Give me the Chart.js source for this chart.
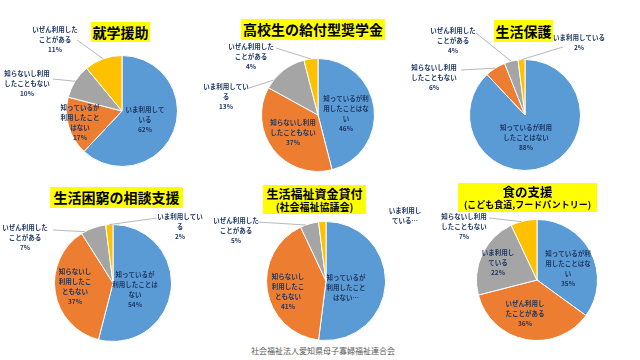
<!DOCTYPE html>
<html>
<head>
<meta charset="utf-8">
<script src="https://cdn.jsdelivr.net/npm/chart.js@4.4.1/dist/chart.umd.min.js"></script>
<style>
  body { margin: 0; width: 640px; height: 360px; background: #fff; position: relative; overflow: hidden;
         font-family: "Noto Sans CJK JP", sans-serif; }
  canvas { position: absolute; left: 0; top: 0; }
  .title { position: absolute; background: #ffff00; color: #000; font-weight: bold; text-align: center; white-space: nowrap;
           display: flex; flex-direction: column; justify-content: center; align-items: center; line-height: 1.15; }
  .footer { position: absolute; left: 0; width: 646px; top: 345px; text-align: center; font-size: 8px; color: #595959; }
</style>
</head>
<body>
<div class="footer">社会福祉法人愛知県母子寡婦福祉連合会</div>
<script>
// Data (percent)
const titles = [
    ['就学援助'],
    ['高校生の給付型奨学金'],
    ['生活保護'],
    ['生活困窮の相談支援'],
    ['生活福祉資金貸付', '(社会福祉協議会)'],
    ['食の支援', '(こども食道,フードパントリー)']
];

const shugakuLabels = ['いま利用している', '知っているが利用したことはない', '知らないし利用したこともない', 'いぜん利用したことがある'];
const shugakuValues = [62, 17, 10, 11];

const kokoLabels = ['知っているが利用したことはない', '知らないし利用したこともない', 'いま利用している', 'いぜん利用したことがある'];
const kokoValues = [46, 37, 13, 4];

const hogoLabels = ['知っているが利用したことはない', '知らないし利用したこともない', 'いぜん利用したことがある', 'いま利用している'];
const hogoValues = [88, 6, 4, 2];

const konkyuLabels = ['知っているが利用したことはない', '知らないし利用したこともない', 'いぜん利用したことがある', 'いま利用している'];
const konkyuValues = [54, 37, 7, 2];

const shikinLabels = ['知っているが利用したことはない', '知らないし利用したこともない', 'いぜん利用したことがある', 'いま利用している'];
const shikinValues = [52, 41, 5, 2];

const shokuLabels = ['知っているが利用したことはない', 'いぜん利用したことがある', 'いま利用している', '知らないし利用したこともない'];
const shokuValues = [35, 36, 22, 7];

const sliceColors = ['#5B9BD5', '#ED7D31', '#A5A5A5', '#FFC000'];

// Layout: pie centre/radius, title box [x, y, w, h, font, subFont], label placement (offsets from pie centre)
const pies = [
    { labels: shugakuLabels, values: shugakuValues, cx: 122, cy: 111, r: 56,
      box: [91, 22, 59, 20, 14],
      tags: [
          { wrap: 6, at: [23, 9] },
          { wrap: 6, at: [-42, 12] },
          { wrap: 7, at: [-95, -27], line: [-69, -32] },
          { wrap: 7, at: [-67, -71], line: [-45, -71] }
      ] },
    { labels: kokoLabels, values: kokoValues, cx: 318, cy: 115, r: 57,
      box: [241, 19, 144, 21, 14],
      tags: [
          { wrap: 7, at: [28, -1] },
          { wrap: 7, at: [-25, 18] },
          { wrap: 7, at: [-92, -18], line: [-69, -27], edge: 0.2 },
          { wrap: 7, at: [-67, -58], line: [-42, -67] }
      ] },
    { labels: hogoLabels, values: hogoValues, cx: 525, cy: 115, r: 56,
      box: [494, 20, 59, 22, 14],
      tags: [
          { wrap: 8, at: [1, 23] },
          { wrap: 7, at: [-91, -37], line: [-64, -45] },
          { wrap: 7, at: [-72, -74], line: [-49, -82] },
          { wrap: 8, at: [54, -72], line: [38, -68] }
      ] },
    { labels: konkyuLabels, values: konkyuValues, cx: 113, cy: 283, r: 59,
      box: [50, 187, 133, 21, 14],
      tags: [
          { wrap: [6, 7], at: [22, 7] },
          { wrap: [5, 5], at: [-38, 4] },
          { wrap: 7, at: [-88, -45], line: [-60, -53], edge: 0.15 },
          { wrap: 7, at: [67, -56], line: [44, -65] }
      ] },
    { labels: shikinLabels, values: shikinValues, cx: 326, cy: 281, r: 60,
      box: [263, 185, 103, 29, 12, 10],
      tags: [
          { wrap: 6, at: [20, 7], maxLines: 3 },
          { wrap: [5, 5], at: [-38, 11] },
          { wrap: 7, at: [-90, -50], line: [-68, -59], edge: 0.3 },
          { wrap: 5, at: [79, -65], maxLines: 2 }
      ] },
    { labels: shokuLabels, values: shokuValues, cx: 537, cy: 280, r: 61,
      box: [458, 183, 139, 29, 12.5, 9],
      tags: [
          { wrap: 7, at: [31, -11] },
          { wrap: 6, at: [-12, 34] },
          { wrap: 5, at: [-39, -17] },
          { wrap: 7, at: [-73, -53], line: [-48, -62], edge: 0.4 }
      ] }
];

function wrapText(str, wrap) {
    const out = [];
    let pos = 0;
    if (Array.isArray(wrap)) {
        wrap.forEach(n => { if (pos < str.length) { out.push(str.slice(pos, pos + n)); pos += n; } });
        if (pos < str.length) out.push(str.slice(pos));
    } else {
        while (pos < str.length) { out.push(str.slice(pos, pos + wrap)); pos += wrap; }
    }
    return out;
}

// Draws the Excel-style data labels and leader lines
const pieLabels = {
    id: 'pieLabels',
    afterDatasetsDraw(chart, args, opts) {
        const ctx = chart.ctx;
        const meta = chart.getDatasetMeta(0);
        const values = chart.data.datasets[0].data;
        const total = values.reduce((a, b) => a + b, 0);
        ctx.save();
        ctx.font = 'bold 6.5px "Noto Sans CJK JP"';
        ctx.textAlign = 'center';
        ctx.textBaseline = 'middle';
        meta.data.forEach((arc, i) => {
            const tag = opts.tags[i];
            const lines = wrapText(chart.data.labels[i], tag.wrap);
            lines.push(Math.round(values[i] / total * 100) + '%');
            if (tag.maxLines && lines.length > tag.maxLines) {
                lines.length = tag.maxLines;
                lines[lines.length - 1] += '…';
            }
            if (tag.line) {
                const f = tag.edge !== undefined ? tag.edge : 0.5;
                const a = arc.startAngle + (arc.endAngle - arc.startAngle) * f;
                ctx.strokeStyle = '#A6A6A6';
                ctx.lineWidth = 0.8;
                ctx.beginPath();
                ctx.moveTo(arc.x + Math.cos(a) * arc.outerRadius, arc.y + Math.sin(a) * arc.outerRadius);
                ctx.lineTo(arc.x + tag.line[0], arc.y + tag.line[1]);
                ctx.stroke();
            }
            ctx.fillStyle = '#1F3864';
            const tx = arc.x + tag.at[0], ty = arc.y + tag.at[1];
            lines.forEach((s, k) => ctx.fillText(s, tx, ty + (k - (lines.length - 1) / 2) * 10));
        });
        ctx.restore();
    }
};

pies.forEach((p, idx) => {
    const canvas = document.createElement('canvas');
    canvas.width = 640;
    canvas.height = 360;
    document.body.appendChild(canvas);

    new Chart(canvas.getContext('2d'), {
        type: 'pie',
        data: {
            labels: p.labels,
            datasets: [{
                data: p.values,
                backgroundColor: sliceColors,
                borderColor: '#ffffff',
                borderWidth: 1
            }]
        },
        options: {
            responsive: false,
            animation: false,
            events: [],
            layout: {
                padding: { left: p.cx - p.r, top: p.cy - p.r, right: 640 - p.cx - p.r, bottom: 360 - p.cy - p.r }
            },
            plugins: {
                legend: { display: false },
                tooltip: { enabled: false },
                pieLabels: { tags: p.tags }
            }
        },
        plugins: [pieLabels]
    });

    const [x, y, w, h, fs, subFs] = p.box;
    const div = document.createElement('div');
    div.className = 'title';
    Object.assign(div.style, { left: x + 'px', top: y + 'px', width: w + 'px', height: h + 'px' });
    titles[idx].forEach((t, k) => {
        const span = document.createElement('span');
        span.textContent = t;
        span.style.fontSize = (k === 0 ? fs : subFs) + 'px';
        div.appendChild(span);
    });
    document.body.appendChild(div);
});
</script>
</body>
</html>
